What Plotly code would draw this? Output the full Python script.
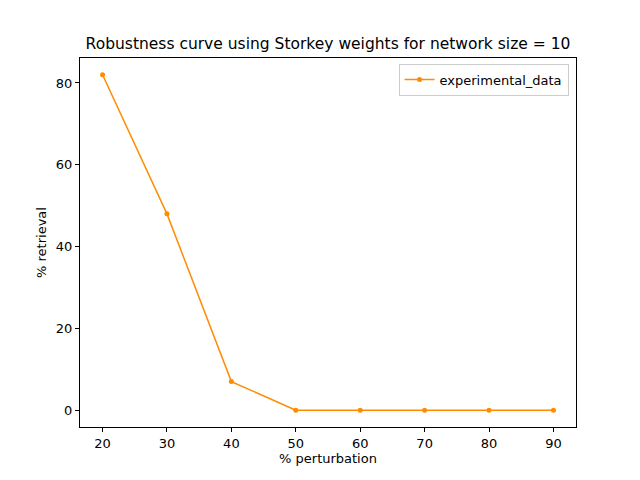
import plotly.graph_objects as go

perturbation = [20, 30, 40, 50, 60, 70, 80, 90]
retrieval = [82, 48, 7, 0, 0, 0, 0, 0]

fig = go.Figure()
fig.add_trace(go.Scatter(x=perturbation, y=retrieval, mode="lines+markers",
                         name="experimental_data",
                         line=dict(color="darkorange", width=1.5),
                         marker=dict(color="darkorange", size=5)))

axis_style = dict(showline=True, linecolor="black", linewidth=1, mirror=True,
                  ticks="outside", ticklen=4, tickcolor="black", showgrid=False,
                  zeroline=False, tickfont=dict(size=13, color="black"))
fig.update_xaxes(range=[16.5, 93.5], tickvals=perturbation,
                 title=dict(text="% perturbation", font=dict(size=13, color="black"), standoff=4),
                 **axis_style)
fig.update_yaxes(range=[-4.1, 86.1], tickvals=[0, 20, 40, 60, 80],
                 title=dict(text="% retrieval", font=dict(size=13, color="black"), standoff=6),
                 **axis_style)
fig.update_layout(
    width=640, height=480,
    margin=dict(l=72, r=72, t=50, b=61),
    paper_bgcolor="white", plot_bgcolor="white",
    font=dict(family="DejaVu Sans", color="black"),
    title=dict(text="Robustness curve using Storkey weights for network size = 10",
               x=0.5, xanchor="center", y=0.925, yanchor="middle",
               font=dict(size=15.5, color="black")),
    showlegend=True,
    legend=dict(x=0.985, y=0.985, xanchor="right", yanchor="top",
                bordercolor="#cccccc", borderwidth=1, bgcolor="white",
                font=dict(size=13)),
)
fig.write_html("out.html")
